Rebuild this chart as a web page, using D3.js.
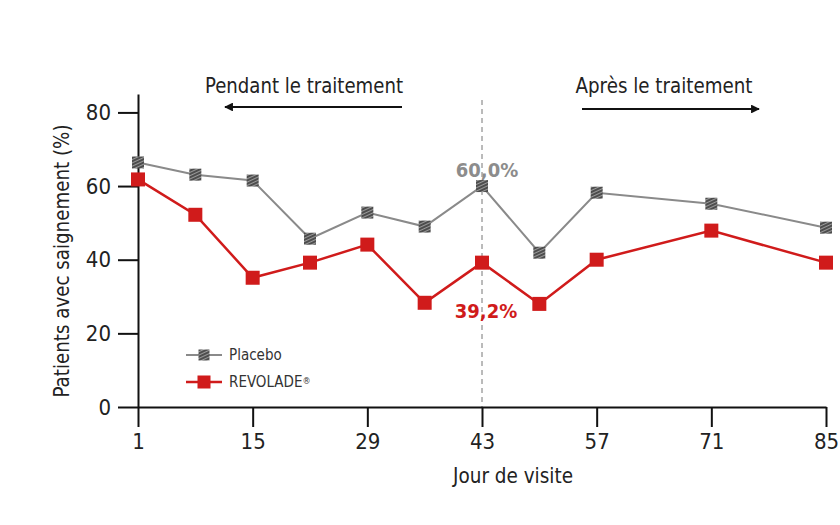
<!DOCTYPE html>
<html>
<head>
<meta charset="utf-8">
<script src="https://cdn.jsdelivr.net/npm/d3@7"></script>
<style>
    body { margin: 0; background: #ffffff; }
    svg { display: block; }
    text { font-family: "Liberation Sans Narrow", "DejaVu Sans Condensed", "Open Sans", sans-serif; fill: #222; }
    .axis text { font-size: 22px; fill: #222; }
    .axis path, .axis line { stroke: #111; stroke-width: 2; }
</style>
</head>
<body>
<svg id="chart" width="840" height="525"></svg>
<script>
// data
let days = [1, 8, 15, 22, 29, 36, 43, 50, 57, 71, 85];
let placebo = [66.4, 63.1, 61.5, 45.7, 52.8, 49.0, 60.0, 41.9, 58.2, 55.2, 48.7];
let revolade = [61.8, 52.2, 35.1, 39.2, 44.1, 28.3, 39.2, 28.0, 40.0, 47.9, 39.2];
let xTicks = [1, 15, 29, 43, 57, 71, 85];
let yTicks = [0, 20, 40, 60, 80];
let seriesNames = ["Placebo", "REVOLADE"];

let chart = d3.select("#chart");

let x = d3.scaleLinear()
    .domain([1, 85])
    .range([138, 826]);

// top of the axis goes a bit over 80
let y = d3.scaleLinear()
    .domain([0, 85])
    .range([407, 94]);

let red = "#d01b1b";
let grey = "#8a8a8a";

// hatched fill for the placebo squares
let defs = chart.append("defs");
let pat = defs.append("pattern")
    .attr("id", "hatch")
    .attr("patternUnits", "userSpaceOnUse")
    .attr("width", 3)
    .attr("height", 3)
    .attr("patternTransform", "rotate(-25)");
pat.append("rect").attr("width", 3).attr("height", 3).attr("fill", "#9a9a9a");
pat.append("line").attr("x1", 0).attr("y1", 1).attr("x2", 3).attr("y2", 1)
    .attr("stroke", "#333").attr("stroke-width", 1.5);

defs.append("marker")
    .attr("id", "arrow")
    .attr("viewBox", "0 0 10 10")
    .attr("refX", 9)
    .attr("refY", 5)
    .attr("markerWidth", 4.5)
    .attr("markerHeight", 4)
    .attr("orient", "auto-start-reverse")
    .append("path")
    .attr("d", "M0,0 L10,5 L0,10 z")
    .attr("fill", "#111");

// dashed line at day 43
chart.append("line")
    .attr("x1", x(43)).attr("x2", x(43))
    .attr("y1", 100).attr("y2", y(0))
    .attr("stroke", "#777")
    .attr("stroke-width", 1)
    .attr("stroke-dasharray", "5,4");

// axes
let xAxis = d3.axisBottom(x)
    .tickValues(xTicks)
    .tickSize(20)
    .tickSizeOuter(0)
    .tickPadding(6);
chart.append("g")
    .attr("class", "axis")
    .attr("transform", "translate(0," + y(0) + ")")
    .call(xAxis);

let yAxis = d3.axisLeft(y)
    .tickValues(yTicks)
    .tickSize(20)
    .tickSizeOuter(0)
    .tickPadding(7);
chart.append("g")
    .attr("class", "axis")
    .attr("transform", "translate(" + x(1) + ",0)")
    .call(yAxis);

// axis titles
chart.append("text")
    .text("Patients avec saignement (%)")
    .attr("transform", "rotate(-90)")
    .attr("x", -261)
    .attr("y", 69)
    .attr("text-anchor", "middle")
    .attr("textLength", 273)
    .attr("lengthAdjust", "spacingAndGlyphs")
    .style("font-size", "22px");

chart.append("text")
    .text("Jour de visite")
    .attr("x", 513)
    .attr("y", 483)
    .attr("text-anchor", "middle")
    .attr("textLength", 120)
    .attr("lengthAdjust", "spacingAndGlyphs")
    .style("font-size", "22px");

// period labels with arrows
chart.append("text")
    .text("Pendant le traitement")
    .attr("x", 304)
    .attr("y", 93)
    .attr("text-anchor", "middle")
    .attr("textLength", 198)
    .attr("lengthAdjust", "spacingAndGlyphs")
    .style("font-size", "22px");
chart.append("line")
    .attr("x1", 402).attr("x2", 225)
    .attr("y1", 107).attr("y2", 107)
    .attr("stroke", "#111").attr("stroke-width", 2.2)
    .attr("marker-end", "url(#arrow)");

chart.append("text")
    .text("Après le traitement")
    .attr("x", 664)
    .attr("y", 93)
    .attr("text-anchor", "middle")
    .attr("textLength", 177)
    .attr("lengthAdjust", "spacingAndGlyphs")
    .style("font-size", "22px");
chart.append("line")
    .attr("x1", 582).attr("x2", 759)
    .attr("y1", 109).attr("y2", 109)
    .attr("stroke", "#111").attr("stroke-width", 2.2)
    .attr("marker-end", "url(#arrow)");

let line = d3.line()
    .x(function(d) { return x(d[0]); })
    .y(function(d) { return y(d[1]); });

let placeboPts = days.map(function(d, i) { return [d, placebo[i]]; });
let revoladePts = days.map(function(d, i) { return [d, revolade[i]]; });

// placebo line
chart.append("path")
    .datum(placeboPts)
    .attr("fill", "none")
    .attr("stroke", grey)
    .attr("stroke-width", 2)
    .attr("d", line);

chart.selectAll(".pmark")
    .data(placeboPts)
    .enter()
    .append("rect")
    .attr("class", "pmark")
    .attr("x", function(d) { return x(d[0]) - 6; })
    .attr("y", function(d) { return y(d[1]) - 6; })
    .attr("width", 12)
    .attr("height", 12)
    .attr("fill", "url(#hatch)");

// revolade line
chart.append("path")
    .datum(revoladePts)
    .attr("fill", "none")
    .attr("stroke", red)
    .attr("stroke-width", 2.5)
    .attr("d", line);

chart.selectAll(".rmark")
    .data(revoladePts)
    .enter()
    .append("rect")
    .attr("class", "rmark")
    .attr("x", function(d) { return x(d[0]) - 7; })
    .attr("y", function(d) { return y(d[1]) - 7; })
    .attr("width", 14)
    .attr("height", 14)
    .attr("fill", red);

// value labels at day 43
chart.append("text")
    .text("60,0%")
    .attr("x", 487)
    .attr("y", 177)
    .attr("text-anchor", "middle")
    .style("font-size", "20px")
    .style("font-weight", "bold")
    .style("fill", "#8c8c8c");

chart.append("text")
    .text("39,2%")
    .attr("x", 486)
    .attr("y", 318)
    .attr("text-anchor", "middle")
    .style("font-size", "20px")
    .style("font-weight", "bold")
    .style("fill", red);

// legend
let legend = chart.append("g").attr("transform", "translate(186,355)");
let legendColor = [grey, red];
let legendFill = ["url(#hatch)", red];
let legendSize = [11, 13];

legend.selectAll("lline")
    .data(seriesNames)
    .enter()
    .append("line")
    .attr("x1", 0).attr("x2", 36)
    .attr("y1", function(d, i) { return i * 27; })
    .attr("y2", function(d, i) { return i * 27; })
    .attr("stroke", function(d, i) { return legendColor[i]; })
    .attr("stroke-width", function(d, i) { return i ? 2.5 : 2; });

legend.selectAll("lmark")
    .data(seriesNames)
    .enter()
    .append("rect")
    .attr("x", function(d, i) { return 18 - legendSize[i] / 2; })
    .attr("y", function(d, i) { return i * 27 - legendSize[i] / 2; })
    .attr("width", function(d, i) { return legendSize[i]; })
    .attr("height", function(d, i) { return legendSize[i]; })
    .attr("fill", function(d, i) { return legendFill[i]; });

let ltext = legend.selectAll("ltext")
    .data(seriesNames)
    .enter()
    .append("text")
    .attr("x", 43)
    .attr("y", function(d, i) { return i * 27; })
    .attr("dy", "0.35em")
    .text(function(d) { return d; })
    .style("font-size", "15px")
    .style("fill", "#333");

// small registered mark after REVOLADE
ltext.filter(function(d, i) { return i == 1; })
    .append("tspan")
    .text("®")
    .attr("dy", "-0.4em")
    .style("font-size", "9px");
</script>
</body>
</html>
